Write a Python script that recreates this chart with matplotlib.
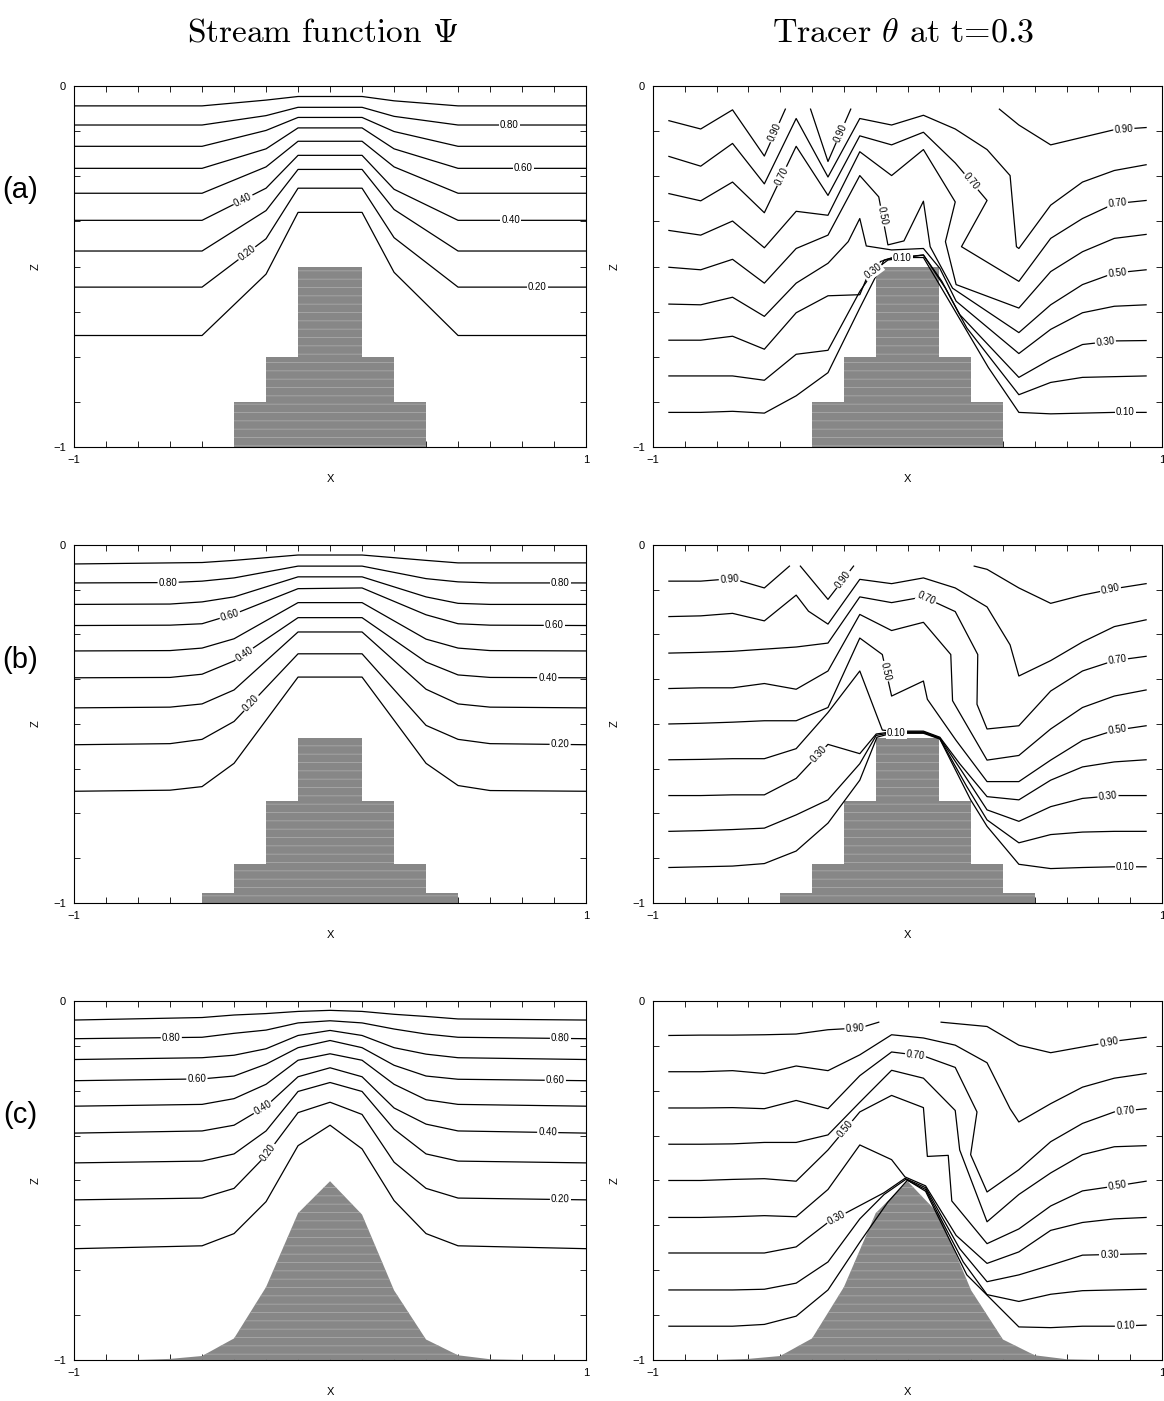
import numpy as np
import matplotlib
matplotlib.use("Agg")
import matplotlib.pyplot as plt

plt.rcParams.update({
    'font.family': ['Liberation Sans', 'DejaVu Sans'],
    'mathtext.fontset': 'cm',
    'axes.linewidth': 0.8,
    'hatch.linewidth': 0.6,
})

LEVELS = [0.9, 0.8, 0.7, 0.6, 0.5, 0.4, 0.3, 0.2, 0.1]

# ------------------------------------------------------------------
# Stream function contours (one row of z per level, sampled at x nodes)
# ------------------------------------------------------------------
psi_a_x = [-1, -0.5, -0.25, -0.125, 0.125, 0.25, 0.5, 1]
psi_a_z = [
    [-0.055, -0.055, -0.039, -0.029, -0.029, -0.041, -0.055, -0.055],
    [-0.108, -0.108, -0.082, -0.059, -0.059, -0.084, -0.108, -0.108],
    [-0.167, -0.167, -0.123, -0.087, -0.087, -0.126, -0.167, -0.167],
    [-0.228, -0.228, -0.174, -0.116, -0.116, -0.174, -0.228, -0.228],
    [-0.297, -0.297, -0.224, -0.153, -0.153, -0.224, -0.297, -0.297],
    [-0.372, -0.372, -0.283, -0.192, -0.192, -0.286, -0.372, -0.372],
    [-0.457, -0.457, -0.345, -0.231, -0.231, -0.342, -0.457, -0.457],
    [-0.557, -0.557, -0.423, -0.283, -0.283, -0.420, -0.557, -0.557],
    [-0.691, -0.691, -0.521, -0.350, -0.350, -0.516, -0.691, -0.691],
]
# (level, segment index, fraction along segment)
psi_a_lab = [(0.8, 6, 0.40), (0.6, 6, 0.51), (0.4, 6, 0.41), (0.4, 1, 0.64),
             (0.2, 6, 0.62), (0.2, 1, 0.70)]

psi_b_x = [-1, -0.625, -0.5, -0.375, -0.125, 0.125, 0.375, 0.5, 0.625, 1]
psi_b_z = [
    [-0.053, -0.050, -0.049, -0.043, -0.028, -0.028, -0.043, -0.050, -0.050, -0.050],
    [-0.106, -0.105, -0.101, -0.092, -0.059, -0.059, -0.094, -0.103, -0.106, -0.106],
    [-0.166, -0.165, -0.159, -0.145, -0.089, -0.089, -0.145, -0.163, -0.166, -0.166],
    [-0.225, -0.224, -0.220, -0.193, -0.122, -0.120, -0.195, -0.220, -0.224, -0.225],
    [-0.296, -0.295, -0.288, -0.262, -0.161, -0.161, -0.263, -0.288, -0.295, -0.296],
    [-0.371, -0.370, -0.361, -0.324, -0.203, -0.203, -0.327, -0.363, -0.370, -0.371],
    [-0.455, -0.453, -0.444, -0.405, -0.243, -0.243, -0.403, -0.444, -0.453, -0.455],
    [-0.558, -0.555, -0.543, -0.493, -0.304, -0.304, -0.504, -0.543, -0.555, -0.558],
    [-0.688, -0.685, -0.675, -0.610, -0.369, -0.369, -0.610, -0.672, -0.686, -0.688],
]
psi_b_lab = [(0.8, 0, 0.98), (0.8, 8, 0.73), (0.6, 2, 0.87), (0.6, 8, 0.67),
             (0.4, 3, 0.16), (0.4, 8, 0.60), (0.2, 3, 0.27), (0.2, 8, 0.73)]

psi_c_x = [-1, -0.5, -0.375, -0.25, -0.125, 0, 0.125, 0.25, 0.375, 0.5, 1]
psi_c_z = [
    [-0.053, -0.046, -0.039, -0.035, -0.029, -0.026, -0.029, -0.037, -0.043, -0.050, -0.053],
    [-0.105, -0.101, -0.090, -0.081, -0.061, -0.055, -0.061, -0.078, -0.092, -0.101, -0.105],
    [-0.163, -0.158, -0.151, -0.133, -0.096, -0.082, -0.096, -0.130, -0.148, -0.158, -0.163],
    [-0.222, -0.217, -0.209, -0.176, -0.130, -0.110, -0.130, -0.179, -0.209, -0.218, -0.222],
    [-0.293, -0.288, -0.272, -0.232, -0.165, -0.147, -0.165, -0.232, -0.275, -0.288, -0.293],
    [-0.368, -0.362, -0.346, -0.293, -0.211, -0.186, -0.211, -0.298, -0.343, -0.362, -0.368],
    [-0.451, -0.446, -0.426, -0.362, -0.252, -0.227, -0.252, -0.357, -0.426, -0.446, -0.451],
    [-0.554, -0.549, -0.522, -0.430, -0.311, -0.282, -0.316, -0.449, -0.522, -0.549, -0.554],
    [-0.690, -0.682, -0.648, -0.559, -0.403, -0.346, -0.412, -0.556, -0.648, -0.682, -0.690],
]
psi_c_lab = [(0.8, 0, 0.76), (0.8, 9, 0.80), (0.6, 0, 0.96), (0.6, 9, 0.76),
             (0.4, 2, 0.90), (0.4, 9, 0.70), (0.2, 3, 0.07), (0.2, 9, 0.80)]

# ------------------------------------------------------------------
# Tracer contours at t=0.3; each entry is one open polyline
# ------------------------------------------------------------------
theta_a_lev = [0.9, 0.9, 0.9, 0.8, 0.7, 0.6, 0.5, 0.4, 0.3, 0.2, 0.1]
theta_a_x = [
    [-0.9375, -0.8125, -0.6875, -0.5625, -0.480],
    [-0.381, -0.3125, -0.223],
    [0.361, 0.4375, 0.5625, 0.6875, 0.8125, 0.9375],
    [-0.9375, -0.8125, -0.6875, -0.5625, -0.4375, -0.3125, -0.1875, -0.0625, 0.0625,
     0.1875, 0.3125, 0.403, 0.428, 0.4375, 0.5625, 0.6875, 0.8125, 0.9375],
    [-0.9375, -0.8125, -0.6875, -0.5625, -0.4375, -0.3125, -0.1875, -0.0625, 0.0625,
     0.1875, 0.3125, 0.212, 0.4375, 0.5625, 0.6875, 0.8125, 0.9375],
    [-0.9375, -0.8125, -0.6875, -0.5625, -0.4375, -0.3125, -0.1875, -0.0625, 0.0625,
     0.1875, 0.149, 0.191, 0.4375, 0.5625, 0.6875, 0.8125, 0.9375],
    [-0.9375, -0.8125, -0.6875, -0.5625, -0.4375, -0.3125, -0.1875, -0.113, -0.077,
     -0.014, 0.0625, 0.089, 0.177, 0.4375, 0.5625, 0.6875, 0.8125, 0.9375],
    [-0.9375, -0.8125, -0.6875, -0.5625, -0.4375, -0.3125, -0.233, -0.1875, -0.162,
     -0.0625, 0.0625, 0.127, 0.191, 0.4375, 0.5625, 0.6875, 0.8125, 0.9375],
    [-0.9375, -0.8125, -0.6875, -0.5625, -0.4375, -0.3125, -0.1875, -0.155, -0.077,
     0.0625, 0.135, 0.205, 0.4375, 0.5625, 0.6875, 0.8125, 0.9375],
    [-0.9375, -0.8125, -0.6875, -0.5625, -0.4375, -0.3125, -0.1875, -0.106, -0.064,
     0.0625, 0.149, 0.233, 0.4375, 0.5625, 0.6875, 0.8125, 0.9375],
    [-0.9375, -0.8125, -0.6875, -0.5625, -0.4375, -0.3125, -0.1875, -0.092, -0.056,
     0.0625, 0.149, 0.318, 0.4375, 0.5625, 0.6875, 0.8125, 0.9375],
]
theta_a_z = [
    [-0.096, -0.119, -0.066, -0.194, -0.064],
    [-0.064, -0.209, -0.064],
    [-0.064, -0.108, -0.163, -0.142, -0.121, -0.115],
    [-0.195, -0.222, -0.159, -0.271, -0.090, -0.252, -0.090, -0.108, -0.081,
     -0.119, -0.176, -0.248, -0.445, -0.450, -0.330, -0.266, -0.234, -0.218],
    [-0.298, -0.318, -0.266, -0.351, -0.167, -0.303, -0.138, -0.163, -0.128,
     -0.213, -0.317, -0.445, -0.541, -0.422, -0.367, -0.326, -0.317],
    [-0.400, -0.413, -0.374, -0.448, -0.347, -0.358, -0.182, -0.248, -0.176,
     -0.321, -0.431, -0.550, -0.615, -0.514, -0.459, -0.422, -0.411],
    [-0.502, -0.509, -0.480, -0.546, -0.450, -0.413, -0.248, -0.307, -0.440,
     -0.429, -0.319, -0.445, -0.560, -0.683, -0.606, -0.550, -0.518, -0.509],
    [-0.604, -0.606, -0.585, -0.638, -0.546, -0.491, -0.431, -0.367, -0.443,
     -0.454, -0.450, -0.505, -0.596, -0.741, -0.674, -0.628, -0.610, -0.606],
    [-0.704, -0.704, -0.693, -0.729, -0.628, -0.581, -0.578, -0.523, -0.482,
     -0.468, -0.541, -0.633, -0.807, -0.757, -0.716, -0.706, -0.705],
    [-0.803, -0.803, -0.803, -0.815, -0.743, -0.732, -0.569, -0.486, -0.477,
     -0.468, -0.560, -0.670, -0.855, -0.821, -0.807, -0.805, -0.803],
    [-0.904, -0.904, -0.901, -0.906, -0.858, -0.794, -0.615, -0.482, -0.475,
     -0.475, -0.578, -0.780, -0.904, -0.908, -0.906, -0.904, -0.904],
]
# (polyline index, segment index, fraction)
theta_a_lab = [(0, 3, 0.5), (1, 1, 0.55), (2, 4, 0.3), (4, 3, 0.55), (4, 9, 0.5),
               (4, 15, 0.1), (6, 7, 0.4), (6, 16, 0.1), (8, 7, 0.25), (8, 14, 0.72),
               (10, 8, 0.3), (10, 15, 0.35)]

theta_b_lev = [0.9, 0.9, 0.9, 0.8, 0.7, 0.6, 0.5, 0.4, 0.3, 0.2, 0.1]
theta_b_x = [
    [-0.9375, -0.8125, -0.6875, -0.5625, -0.464],
    [-0.421, -0.3125, -0.212],
    [0.262, 0.3125, 0.4375, 0.5625, 0.6875, 0.8125, 0.9375],
    [-0.9375, -0.8125, -0.6875, -0.5625, -0.4375, -0.389, -0.3125, -0.1875, -0.0625,
     0.0625, 0.1875, 0.3125, 0.403, 0.4375, 0.5625, 0.6875, 0.8125, 0.9375],
    [-0.9375, -0.8125, -0.6875, -0.5625, -0.4375, -0.3125, -0.1875, -0.0625, 0.0625,
     0.1875, 0.276, 0.273, 0.3125, 0.4375, 0.5625, 0.6875, 0.8125, 0.9375],
    [-0.9375, -0.8125, -0.6875, -0.5625, -0.4375, -0.3125, -0.1875, -0.0625, 0.0625,
     0.170, 0.177, 0.3125, 0.4375, 0.5625, 0.6875, 0.8125, 0.9375],
    [-0.9375, -0.8125, -0.6875, -0.5625, -0.4375, -0.3125, -0.1875, -0.099, -0.0625,
     0.0625, 0.078, 0.191, 0.3125, 0.4375, 0.5625, 0.6875, 0.8125, 0.9375],
    [-0.9375, -0.8125, -0.6875, -0.5625, -0.4375, -0.3125, -0.1875, -0.099, -0.0625,
     0.0625, 0.127, 0.205, 0.3125, 0.4375, 0.5625, 0.6875, 0.8125, 0.9375],
    [-0.9375, -0.8125, -0.6875, -0.5625, -0.4375, -0.3125, -0.1875, -0.123, -0.0625,
     0.0625, 0.127, 0.219, 0.3125, 0.4375, 0.5625, 0.6875, 0.8125, 0.9375],
    [-0.9375, -0.8125, -0.6875, -0.5625, -0.4375, -0.3125, -0.1875, -0.123, -0.0625,
     0.0625, 0.127, 0.233, 0.3125, 0.4375, 0.5625, 0.6875, 0.8125, 0.9375],
    [-0.9375, -0.8125, -0.6875, -0.5625, -0.4375, -0.3125, -0.1875, -0.120, -0.0625,
     0.0625, 0.127, 0.248, 0.3125, 0.4375, 0.5625, 0.6875, 0.8125, 0.9375],
]
theta_b_z = [
    [-0.101, -0.101, -0.094, -0.120, -0.059],
    [-0.059, -0.152, -0.059],
    [-0.059, -0.068, -0.120, -0.163, -0.140, -0.122, -0.108],
    [-0.200, -0.198, -0.191, -0.212, -0.140, -0.185, -0.221, -0.096, -0.108,
     -0.092, -0.120, -0.173, -0.279, -0.366, -0.323, -0.271, -0.228, -0.209],
    [-0.302, -0.300, -0.297, -0.291, -0.285, -0.274, -0.145, -0.161, -0.145,
     -0.186, -0.306, -0.445, -0.514, -0.505, -0.408, -0.352, -0.323, -0.311],
    [-0.401, -0.399, -0.399, -0.387, -0.403, -0.352, -0.194, -0.239, -0.216,
     -0.306, -0.435, -0.601, -0.588, -0.514, -0.454, -0.422, -0.405],
    [-0.500, -0.498, -0.495, -0.491, -0.491, -0.454, -0.260, -0.306, -0.422,
     -0.380, -0.431, -0.546, -0.661, -0.661, -0.601, -0.546, -0.518, -0.505],
    [-0.600, -0.599, -0.597, -0.597, -0.569, -0.468, -0.352, -0.517, -0.520,
     -0.520, -0.537, -0.611, -0.703, -0.712, -0.657, -0.620, -0.606, -0.600],
    [-0.700, -0.700, -0.698, -0.698, -0.652, -0.557, -0.583, -0.528, -0.522,
     -0.522, -0.539, -0.638, -0.740, -0.772, -0.731, -0.708, -0.700, -0.700],
    [-0.800, -0.798, -0.795, -0.791, -0.754, -0.712, -0.611, -0.532, -0.524,
     -0.524, -0.541, -0.675, -0.768, -0.832, -0.809, -0.802, -0.800, -0.800],
    [-0.901, -0.899, -0.897, -0.890, -0.855, -0.777, -0.657, -0.537, -0.526,
     -0.526, -0.542, -0.712, -0.786, -0.892, -0.904, -0.901, -0.899, -0.899],
]
theta_b_lab = [(0, 1, 0.9), (1, 1, 0.6), (2, 4, 0.88), (4, 8, 0.1), (4, 16, 0.1),
               (6, 7, 0.4), (6, 16, 0.1), (8, 4, 0.7), (8, 15, 0.8), (10, 8, 0.15),
               (10, 16, 0.35)]

theta_c_lev = [0.9, 0.9, 0.8, 0.7, 0.6, 0.5, 0.4, 0.3, 0.2, 0.1]
theta_c_x = [
    [-0.9375, -0.8125, -0.6875, -0.5625, -0.4375, -0.3125, -0.1875, -0.113],
    [0.132, 0.3125, 0.4375, 0.5625, 0.6875, 0.8125, 0.9375],
    [-0.9375, -0.8125, -0.6875, -0.5625, -0.4375, -0.3125, -0.1875, -0.0625, 0.0625,
     0.1875, 0.3125, 0.403, 0.4375, 0.5625, 0.6875, 0.8125, 0.9375],
    [-0.9375, -0.8125, -0.6875, -0.5625, -0.4375, -0.3125, -0.1875, -0.0625, 0.0625,
     0.1875, 0.273, 0.248, 0.3125, 0.4375, 0.5625, 0.6875, 0.8125, 0.9375],
    [-0.9375, -0.8125, -0.6875, -0.5625, -0.4375, -0.3125, -0.1875, -0.0625, 0.0625,
     0.1875, 0.205, 0.3125, 0.4375, 0.5625, 0.6875, 0.8125, 0.9375],
    [-0.9375, -0.8125, -0.6875, -0.5625, -0.4375, -0.3125, -0.1875, -0.0625, 0.0625,
     0.078, 0.160, 0.174, 0.3125, 0.4375, 0.5625, 0.6875, 0.8125, 0.9375],
    [-0.9375, -0.8125, -0.6875, -0.5625, -0.4375, -0.3125, -0.1875, -0.0625, -0.010,
     0.071, 0.191, 0.3125, 0.4375, 0.5625, 0.6875, 0.8125, 0.9375],
    [-0.9375, -0.8125, -0.6875, -0.5625, -0.4375, -0.3125, -0.092, -0.010, 0.071,
     0.205, 0.3125, 0.4375, 0.5625, 0.6875, 0.8125, 0.9375],
    [-0.9375, -0.8125, -0.6875, -0.5625, -0.4375, -0.3125, -0.1875, -0.092, -0.007,
     0.071, 0.219, 0.3125, 0.4375, 0.5625, 0.6875, 0.8125, 0.9375],
    [-0.9375, -0.8125, -0.6875, -0.5625, -0.4375, -0.3125, -0.1875, -0.078, 0.0,
     0.071, 0.233, 0.4375, 0.5625, 0.6875, 0.8125, 0.9375],
]
theta_c_z = [
    [-0.096, -0.095, -0.095, -0.094, -0.092, -0.080, -0.075, -0.059],
    [-0.059, -0.071, -0.123, -0.144, -0.128, -0.112, -0.101],
    [-0.197, -0.197, -0.194, -0.202, -0.181, -0.194, -0.150, -0.094, -0.103,
     -0.123, -0.172, -0.300, -0.337, -0.286, -0.240, -0.215, -0.202],
    [-0.298, -0.298, -0.297, -0.300, -0.277, -0.300, -0.208, -0.142, -0.153,
     -0.185, -0.309, -0.428, -0.532, -0.470, -0.392, -0.341, -0.309, -0.300],
    [-0.399, -0.399, -0.398, -0.394, -0.394, -0.373, -0.282, -0.193, -0.215,
     -0.305, -0.415, -0.615, -0.539, -0.479, -0.428, -0.406, -0.403],
    [-0.500, -0.500, -0.497, -0.495, -0.502, -0.415, -0.309, -0.263, -0.297,
     -0.433, -0.430, -0.557, -0.676, -0.635, -0.571, -0.529, -0.516, -0.502],
    [-0.603, -0.603, -0.601, -0.598, -0.601, -0.525, -0.401, -0.442, -0.490,
     -0.515, -0.653, -0.731, -0.699, -0.639, -0.617, -0.607, -0.603],
    [-0.702, -0.702, -0.702, -0.702, -0.685, -0.617, -0.534, -0.494, -0.520,
     -0.690, -0.782, -0.763, -0.736, -0.708, -0.706, -0.704],
    [-0.805, -0.805, -0.805, -0.803, -0.786, -0.727, -0.607, -0.539, -0.497,
     -0.525, -0.727, -0.818, -0.837, -0.817, -0.807, -0.805, -0.803],
    [-0.906, -0.906, -0.906, -0.901, -0.878, -0.805, -0.672, -0.561, -0.499,
     -0.530, -0.763, -0.908, -0.910, -0.906, -0.906, -0.903],
]
theta_c_lab = [(0, 5, 0.85), (1, 4, 0.83), (3, 7, 0.75), (3, 16, 0.35), (5, 5, 0.55),
               (5, 16, 0.1), (7, 5, 0.15), (7, 13, 0.85), (9, 14, 0.35)]

# ------------------------------------------------------------------
# Topography
# ------------------------------------------------------------------
steps_a_half = [0.375, 0.25, 0.125]
steps_a_top = [-0.875, -0.75, -0.5]
steps_b_half = [0.5, 0.375, 0.25, 0.125]
steps_b_top = [-0.972, -0.89, -0.714, -0.538]
hill_x = [-0.75, -0.625, -0.5, -0.375, -0.25, -0.125, 0, 0.125, 0.25, 0.375, 0.5, 0.625, 0.75]
hill_z = [-1.0, -0.997, -0.989, -0.940, -0.797, -0.591, -0.502, -0.595, -0.806, -0.943,
          -0.987, -0.998, -1.0]

FILL = '#878787'
STREAK = '#a9a9a9'


def put_label(ax, xs, zs, lev, seg, t):
    x0, x1 = xs[seg], xs[seg + 1]
    z0, z1 = zs[seg], zs[seg + 1]
    ang = np.degrees(np.arctan2(z1 - z0, x1 - x0))
    if ang > 90:
        ang -= 180
    elif ang < -90:
        ang += 180
    ax.text(x0 + t * (x1 - x0), z0 + t * (z1 - z0), f'{lev:.2f}', fontsize=7,
            rotation=ang, transform_rotates_text=True, rotation_mode='anchor',
            ha='center', va='center', zorder=5,
            bbox=dict(boxstyle='square,pad=0.12', fc='white', ec='none'))


def frame(ax):
    ax.set_xlim(-1, 1)
    ax.set_ylim(-1, 0)
    xt = np.arange(-1, 1.001, 0.125)
    zt = np.arange(-1, 0.001, 0.125)
    ax.set_xticks(xt, ['\u22121'] + [''] * (len(xt) - 2) + ['1'])
    ax.set_yticks(zt, ['\u22121'] + [''] * (len(zt) - 2) + ['0'])
    ax.tick_params(direction='in', length=4, width=0.6, top=True, right=True,
                   labelsize=8, pad=6)
    ax.set_xlabel('X', fontsize=8, labelpad=6)
    ax.set_ylabel('Z', fontsize=8, labelpad=9)


def draw_steps(ax, half, top):
    for h, t in zip(half, top):
        ax.bar(0, t + 1, width=2 * h, bottom=-1, facecolor=FILL, edgecolor=STREAK,
               hatch='--', linewidth=0, zorder=2)


def draw_hill(ax):
    ax.fill_between(hill_x, -1, hill_z, facecolor=FILL, edgecolor=STREAK, hatch='--',
                    linewidth=0, zorder=2)


def draw_psi(ax, xs, zz, labs):
    for z in zz:
        ax.plot(xs, z, color='black', lw=0.9, zorder=3)
    for lev, seg, t in labs:
        put_label(ax, xs, zz[LEVELS.index(lev)], lev, seg, t)


def draw_theta(ax, lev, xx, zz, labs):
    for x, z in zip(xx, zz):
        ax.plot(x, z, color='black', lw=0.9, zorder=3)
    for i, seg, t in labs:
        put_label(ax, xx[i], zz[i], lev[i], seg, t)


fig = plt.figure(figsize=(11.64, 14.01), dpi=100)
rows = [(0.6809, 0.2577), (0.3555, 0.2555), (0.0293, 0.2562)]
axes = []
for b, h in rows:
    axes.append((fig.add_axes([0.0636, b, 0.4399, h]), fig.add_axes([0.561, b, 0.4373, h])))

for ax in np.ravel(axes):
    frame(ax)

# row (a): coarse stepped obstacle
draw_steps(axes[0][0], steps_a_half, steps_a_top)
draw_psi(axes[0][0], psi_a_x, psi_a_z, psi_a_lab)
draw_steps(axes[0][1], steps_a_half, steps_a_top)
draw_theta(axes[0][1], theta_a_lev, theta_a_x, theta_a_z, theta_a_lab)

# row (b): finer steps
draw_steps(axes[1][0], steps_b_half, steps_b_top)
draw_psi(axes[1][0], psi_b_x, psi_b_z, psi_b_lab)
draw_steps(axes[1][1], steps_b_half, steps_b_top)
draw_theta(axes[1][1], theta_b_lev, theta_b_x, theta_b_z, theta_b_lab)

# row (c): smooth hill
draw_hill(axes[2][0])
draw_psi(axes[2][0], psi_c_x, psi_c_z, psi_c_lab)
draw_hill(axes[2][1])
draw_theta(axes[2][1], theta_c_lev, theta_c_x, theta_c_z, theta_c_lab)

fig.text(0.2775, 0.9764, r'Stream function $\Psi$', family='cmr10', fontsize=24,
         ha='center', va='center')
fig.text(0.7758, 0.9764, r'Tracer $\theta$ at t=0.3', family='cmr10', fontsize=24.5,
         ha='center', va='center')
for y, s in zip([0.8644, 0.5289, 0.2041], ['(a)', '(b)', '(c)']):
    fig.text(0.0172, y, s, fontsize=21, ha='center', va='center')

fig.savefig('out.png', dpi=100)
